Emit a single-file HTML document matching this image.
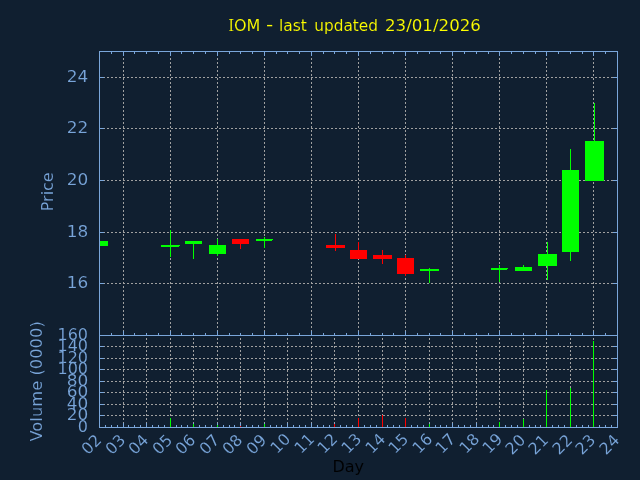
<!DOCTYPE html>
<html lang="en">
<head>
<meta charset="utf-8">
<title>IOM - last updated 23/01/2026</title>
<style>
html,body{margin:0;padding:0;background:#101f30;}
body{width:640px;height:480px;overflow:hidden;}
svg{display:block;}
svg text{font-family:"DejaVu Sans","Liberation Sans",sans-serif;font-size:16px;stroke:#101f30;stroke-width:0.12px;paint-order:fill stroke;}
</style>
</head>
<body>
<svg width="640" height="480" viewBox="0 0 640 480">
<defs><clipPath id="cp"><rect x="99" y="51" width="519" height="285"/></clipPath></defs>
<rect x="0" y="0" width="640" height="480" fill="#101f30"/>
<g shape-rendering="crispEdges">
<line x1="104" y1="77.5" x2="613" y2="77.5" stroke="#a0a0a0" stroke-width="1" stroke-dasharray="2 2" stroke-dashoffset="1"/>
<line x1="104" y1="128.5" x2="613" y2="128.5" stroke="#a0a0a0" stroke-width="1" stroke-dasharray="2 2" stroke-dashoffset="1"/>
<line x1="104" y1="180.5" x2="613" y2="180.5" stroke="#a0a0a0" stroke-width="1" stroke-dasharray="2 2" stroke-dashoffset="1"/>
<line x1="104" y1="232.5" x2="613" y2="232.5" stroke="#a0a0a0" stroke-width="1" stroke-dasharray="2 2" stroke-dashoffset="1"/>
<line x1="104" y1="283.5" x2="613" y2="283.5" stroke="#a0a0a0" stroke-width="1" stroke-dasharray="2 2" stroke-dashoffset="1"/>
<line x1="123.5" y1="56" x2="123.5" y2="331" stroke="#a0a0a0" stroke-width="1" stroke-dasharray="2 2" stroke-dashoffset="2"/>
<line x1="170.5" y1="56" x2="170.5" y2="331" stroke="#a0a0a0" stroke-width="1" stroke-dasharray="2 2" stroke-dashoffset="2"/>
<line x1="217.5" y1="56" x2="217.5" y2="331" stroke="#a0a0a0" stroke-width="1" stroke-dasharray="2 2" stroke-dashoffset="2"/>
<line x1="264.5" y1="56" x2="264.5" y2="331" stroke="#a0a0a0" stroke-width="1" stroke-dasharray="2 2" stroke-dashoffset="2"/>
<line x1="311.5" y1="56" x2="311.5" y2="331" stroke="#a0a0a0" stroke-width="1" stroke-dasharray="2 2" stroke-dashoffset="2"/>
<line x1="358.5" y1="56" x2="358.5" y2="331" stroke="#a0a0a0" stroke-width="1" stroke-dasharray="2 2" stroke-dashoffset="2"/>
<line x1="405.5" y1="56" x2="405.5" y2="331" stroke="#a0a0a0" stroke-width="1" stroke-dasharray="2 2" stroke-dashoffset="2"/>
<line x1="452.5" y1="56" x2="452.5" y2="331" stroke="#a0a0a0" stroke-width="1" stroke-dasharray="2 2" stroke-dashoffset="2"/>
<line x1="499.5" y1="56" x2="499.5" y2="331" stroke="#a0a0a0" stroke-width="1" stroke-dasharray="2 2" stroke-dashoffset="2"/>
<line x1="546.5" y1="56" x2="546.5" y2="331" stroke="#a0a0a0" stroke-width="1" stroke-dasharray="2 2" stroke-dashoffset="2"/>
<line x1="593.5" y1="56" x2="593.5" y2="331" stroke="#a0a0a0" stroke-width="1" stroke-dasharray="2 2" stroke-dashoffset="2"/>
<line x1="104" y1="346.5" x2="613" y2="346.5" stroke="#a0a0a0" stroke-width="1" stroke-dasharray="2 2" stroke-dashoffset="1"/>
<line x1="104" y1="358.5" x2="613" y2="358.5" stroke="#a0a0a0" stroke-width="1" stroke-dasharray="2 2" stroke-dashoffset="1"/>
<line x1="104" y1="369.5" x2="613" y2="369.5" stroke="#a0a0a0" stroke-width="1" stroke-dasharray="2 2" stroke-dashoffset="1"/>
<line x1="104" y1="381.5" x2="613" y2="381.5" stroke="#a0a0a0" stroke-width="1" stroke-dasharray="2 2" stroke-dashoffset="1"/>
<line x1="104" y1="392.5" x2="613" y2="392.5" stroke="#a0a0a0" stroke-width="1" stroke-dasharray="2 2" stroke-dashoffset="1"/>
<line x1="104" y1="404.5" x2="613" y2="404.5" stroke="#a0a0a0" stroke-width="1" stroke-dasharray="2 2" stroke-dashoffset="1"/>
<line x1="104" y1="415.5" x2="613" y2="415.5" stroke="#a0a0a0" stroke-width="1" stroke-dasharray="2 2" stroke-dashoffset="1"/>
<line x1="123.5" y1="336" x2="123.5" y2="423" stroke="#a0a0a0" stroke-width="1" stroke-dasharray="2 2" stroke-dashoffset="2"/>
<line x1="146.5" y1="336" x2="146.5" y2="423" stroke="#a0a0a0" stroke-width="1" stroke-dasharray="2 2" stroke-dashoffset="2"/>
<line x1="170.5" y1="336" x2="170.5" y2="423" stroke="#a0a0a0" stroke-width="1" stroke-dasharray="2 2" stroke-dashoffset="2"/>
<line x1="193.5" y1="336" x2="193.5" y2="423" stroke="#a0a0a0" stroke-width="1" stroke-dasharray="2 2" stroke-dashoffset="2"/>
<line x1="217.5" y1="336" x2="217.5" y2="423" stroke="#a0a0a0" stroke-width="1" stroke-dasharray="2 2" stroke-dashoffset="2"/>
<line x1="240.5" y1="336" x2="240.5" y2="423" stroke="#a0a0a0" stroke-width="1" stroke-dasharray="2 2" stroke-dashoffset="2"/>
<line x1="264.5" y1="336" x2="264.5" y2="423" stroke="#a0a0a0" stroke-width="1" stroke-dasharray="2 2" stroke-dashoffset="2"/>
<line x1="287.5" y1="336" x2="287.5" y2="423" stroke="#a0a0a0" stroke-width="1" stroke-dasharray="2 2" stroke-dashoffset="2"/>
<line x1="311.5" y1="336" x2="311.5" y2="423" stroke="#a0a0a0" stroke-width="1" stroke-dasharray="2 2" stroke-dashoffset="2"/>
<line x1="334.5" y1="336" x2="334.5" y2="423" stroke="#a0a0a0" stroke-width="1" stroke-dasharray="2 2" stroke-dashoffset="2"/>
<line x1="358.5" y1="336" x2="358.5" y2="423" stroke="#a0a0a0" stroke-width="1" stroke-dasharray="2 2" stroke-dashoffset="2"/>
<line x1="382.5" y1="336" x2="382.5" y2="423" stroke="#a0a0a0" stroke-width="1" stroke-dasharray="2 2" stroke-dashoffset="2"/>
<line x1="405.5" y1="336" x2="405.5" y2="423" stroke="#a0a0a0" stroke-width="1" stroke-dasharray="2 2" stroke-dashoffset="2"/>
<line x1="429.5" y1="336" x2="429.5" y2="423" stroke="#a0a0a0" stroke-width="1" stroke-dasharray="2 2" stroke-dashoffset="2"/>
<line x1="452.5" y1="336" x2="452.5" y2="423" stroke="#a0a0a0" stroke-width="1" stroke-dasharray="2 2" stroke-dashoffset="2"/>
<line x1="476.5" y1="336" x2="476.5" y2="423" stroke="#a0a0a0" stroke-width="1" stroke-dasharray="2 2" stroke-dashoffset="2"/>
<line x1="499.5" y1="336" x2="499.5" y2="423" stroke="#a0a0a0" stroke-width="1" stroke-dasharray="2 2" stroke-dashoffset="2"/>
<line x1="523.5" y1="336" x2="523.5" y2="423" stroke="#a0a0a0" stroke-width="1" stroke-dasharray="2 2" stroke-dashoffset="2"/>
<line x1="546.5" y1="336" x2="546.5" y2="423" stroke="#a0a0a0" stroke-width="1" stroke-dasharray="2 2" stroke-dashoffset="2"/>
<line x1="570.5" y1="336" x2="570.5" y2="423" stroke="#a0a0a0" stroke-width="1" stroke-dasharray="2 2" stroke-dashoffset="2"/>
<line x1="593.5" y1="336" x2="593.5" y2="423" stroke="#a0a0a0" stroke-width="1" stroke-dasharray="2 2" stroke-dashoffset="2"/>
<rect x="111" y="52" width="1" height="2" fill="#7aa6da"/>
<rect x="111" y="333" width="1" height="2" fill="#7aa6da"/>
<rect x="123" y="52" width="1" height="4" fill="#7aa6da"/>
<rect x="123" y="331" width="1" height="4" fill="#7aa6da"/>
<rect x="134" y="52" width="1" height="2" fill="#7aa6da"/>
<rect x="134" y="333" width="1" height="2" fill="#7aa6da"/>
<rect x="146" y="52" width="1" height="2" fill="#7aa6da"/>
<rect x="146" y="333" width="1" height="2" fill="#7aa6da"/>
<rect x="158" y="52" width="1" height="2" fill="#7aa6da"/>
<rect x="158" y="333" width="1" height="2" fill="#7aa6da"/>
<rect x="170" y="52" width="1" height="4" fill="#7aa6da"/>
<rect x="170" y="331" width="1" height="4" fill="#7aa6da"/>
<rect x="181" y="52" width="1" height="2" fill="#7aa6da"/>
<rect x="181" y="333" width="1" height="2" fill="#7aa6da"/>
<rect x="193" y="52" width="1" height="2" fill="#7aa6da"/>
<rect x="193" y="333" width="1" height="2" fill="#7aa6da"/>
<rect x="205" y="52" width="1" height="2" fill="#7aa6da"/>
<rect x="205" y="333" width="1" height="2" fill="#7aa6da"/>
<rect x="217" y="52" width="1" height="4" fill="#7aa6da"/>
<rect x="217" y="331" width="1" height="4" fill="#7aa6da"/>
<rect x="229" y="52" width="1" height="2" fill="#7aa6da"/>
<rect x="229" y="333" width="1" height="2" fill="#7aa6da"/>
<rect x="240" y="52" width="1" height="2" fill="#7aa6da"/>
<rect x="240" y="333" width="1" height="2" fill="#7aa6da"/>
<rect x="252" y="52" width="1" height="2" fill="#7aa6da"/>
<rect x="252" y="333" width="1" height="2" fill="#7aa6da"/>
<rect x="264" y="52" width="1" height="4" fill="#7aa6da"/>
<rect x="264" y="331" width="1" height="4" fill="#7aa6da"/>
<rect x="276" y="52" width="1" height="2" fill="#7aa6da"/>
<rect x="276" y="333" width="1" height="2" fill="#7aa6da"/>
<rect x="287" y="52" width="1" height="2" fill="#7aa6da"/>
<rect x="287" y="333" width="1" height="2" fill="#7aa6da"/>
<rect x="299" y="52" width="1" height="2" fill="#7aa6da"/>
<rect x="299" y="333" width="1" height="2" fill="#7aa6da"/>
<rect x="311" y="52" width="1" height="4" fill="#7aa6da"/>
<rect x="311" y="331" width="1" height="4" fill="#7aa6da"/>
<rect x="323" y="52" width="1" height="2" fill="#7aa6da"/>
<rect x="323" y="333" width="1" height="2" fill="#7aa6da"/>
<rect x="334" y="52" width="1" height="2" fill="#7aa6da"/>
<rect x="334" y="333" width="1" height="2" fill="#7aa6da"/>
<rect x="346" y="52" width="1" height="2" fill="#7aa6da"/>
<rect x="346" y="333" width="1" height="2" fill="#7aa6da"/>
<rect x="358" y="52" width="1" height="4" fill="#7aa6da"/>
<rect x="358" y="331" width="1" height="4" fill="#7aa6da"/>
<rect x="370" y="52" width="1" height="2" fill="#7aa6da"/>
<rect x="370" y="333" width="1" height="2" fill="#7aa6da"/>
<rect x="382" y="52" width="1" height="2" fill="#7aa6da"/>
<rect x="382" y="333" width="1" height="2" fill="#7aa6da"/>
<rect x="393" y="52" width="1" height="2" fill="#7aa6da"/>
<rect x="393" y="333" width="1" height="2" fill="#7aa6da"/>
<rect x="405" y="52" width="1" height="4" fill="#7aa6da"/>
<rect x="405" y="331" width="1" height="4" fill="#7aa6da"/>
<rect x="417" y="52" width="1" height="2" fill="#7aa6da"/>
<rect x="417" y="333" width="1" height="2" fill="#7aa6da"/>
<rect x="429" y="52" width="1" height="2" fill="#7aa6da"/>
<rect x="429" y="333" width="1" height="2" fill="#7aa6da"/>
<rect x="440" y="52" width="1" height="2" fill="#7aa6da"/>
<rect x="440" y="333" width="1" height="2" fill="#7aa6da"/>
<rect x="452" y="52" width="1" height="4" fill="#7aa6da"/>
<rect x="452" y="331" width="1" height="4" fill="#7aa6da"/>
<rect x="464" y="52" width="1" height="2" fill="#7aa6da"/>
<rect x="464" y="333" width="1" height="2" fill="#7aa6da"/>
<rect x="476" y="52" width="1" height="2" fill="#7aa6da"/>
<rect x="476" y="333" width="1" height="2" fill="#7aa6da"/>
<rect x="488" y="52" width="1" height="2" fill="#7aa6da"/>
<rect x="488" y="333" width="1" height="2" fill="#7aa6da"/>
<rect x="499" y="52" width="1" height="4" fill="#7aa6da"/>
<rect x="499" y="331" width="1" height="4" fill="#7aa6da"/>
<rect x="511" y="52" width="1" height="2" fill="#7aa6da"/>
<rect x="511" y="333" width="1" height="2" fill="#7aa6da"/>
<rect x="523" y="52" width="1" height="2" fill="#7aa6da"/>
<rect x="523" y="333" width="1" height="2" fill="#7aa6da"/>
<rect x="535" y="52" width="1" height="2" fill="#7aa6da"/>
<rect x="535" y="333" width="1" height="2" fill="#7aa6da"/>
<rect x="546" y="52" width="1" height="4" fill="#7aa6da"/>
<rect x="546" y="331" width="1" height="4" fill="#7aa6da"/>
<rect x="558" y="52" width="1" height="2" fill="#7aa6da"/>
<rect x="558" y="333" width="1" height="2" fill="#7aa6da"/>
<rect x="570" y="52" width="1" height="2" fill="#7aa6da"/>
<rect x="570" y="333" width="1" height="2" fill="#7aa6da"/>
<rect x="582" y="52" width="1" height="2" fill="#7aa6da"/>
<rect x="582" y="333" width="1" height="2" fill="#7aa6da"/>
<rect x="593" y="52" width="1" height="4" fill="#7aa6da"/>
<rect x="593" y="331" width="1" height="4" fill="#7aa6da"/>
<rect x="605" y="52" width="1" height="2" fill="#7aa6da"/>
<rect x="605" y="333" width="1" height="2" fill="#7aa6da"/>
<rect x="100" y="77" width="4" height="1" fill="#7aa6da"/>
<rect x="613" y="77" width="4" height="1" fill="#7aa6da"/>
<rect x="100" y="128" width="4" height="1" fill="#7aa6da"/>
<rect x="613" y="128" width="4" height="1" fill="#7aa6da"/>
<rect x="100" y="180" width="4" height="1" fill="#7aa6da"/>
<rect x="613" y="180" width="4" height="1" fill="#7aa6da"/>
<rect x="100" y="232" width="4" height="1" fill="#7aa6da"/>
<rect x="613" y="232" width="4" height="1" fill="#7aa6da"/>
<rect x="100" y="283" width="4" height="1" fill="#7aa6da"/>
<rect x="613" y="283" width="4" height="1" fill="#7aa6da"/>
<rect x="105" y="425" width="1" height="2" fill="#7aa6da"/>
<rect x="111" y="425" width="1" height="2" fill="#7aa6da"/>
<rect x="117" y="425" width="1" height="2" fill="#7aa6da"/>
<rect x="123" y="423" width="1" height="4" fill="#7aa6da"/>
<rect x="128" y="425" width="1" height="2" fill="#7aa6da"/>
<rect x="134" y="425" width="1" height="2" fill="#7aa6da"/>
<rect x="140" y="425" width="1" height="2" fill="#7aa6da"/>
<rect x="146" y="423" width="1" height="4" fill="#7aa6da"/>
<rect x="152" y="425" width="1" height="2" fill="#7aa6da"/>
<rect x="158" y="425" width="1" height="2" fill="#7aa6da"/>
<rect x="164" y="425" width="1" height="2" fill="#7aa6da"/>
<rect x="170" y="423" width="1" height="4" fill="#7aa6da"/>
<rect x="176" y="425" width="1" height="2" fill="#7aa6da"/>
<rect x="181" y="425" width="1" height="2" fill="#7aa6da"/>
<rect x="187" y="425" width="1" height="2" fill="#7aa6da"/>
<rect x="193" y="423" width="1" height="4" fill="#7aa6da"/>
<rect x="199" y="425" width="1" height="2" fill="#7aa6da"/>
<rect x="205" y="425" width="1" height="2" fill="#7aa6da"/>
<rect x="211" y="425" width="1" height="2" fill="#7aa6da"/>
<rect x="217" y="423" width="1" height="4" fill="#7aa6da"/>
<rect x="223" y="425" width="1" height="2" fill="#7aa6da"/>
<rect x="229" y="425" width="1" height="2" fill="#7aa6da"/>
<rect x="234" y="425" width="1" height="2" fill="#7aa6da"/>
<rect x="240" y="423" width="1" height="4" fill="#7aa6da"/>
<rect x="246" y="425" width="1" height="2" fill="#7aa6da"/>
<rect x="252" y="425" width="1" height="2" fill="#7aa6da"/>
<rect x="258" y="425" width="1" height="2" fill="#7aa6da"/>
<rect x="264" y="423" width="1" height="4" fill="#7aa6da"/>
<rect x="270" y="425" width="1" height="2" fill="#7aa6da"/>
<rect x="276" y="425" width="1" height="2" fill="#7aa6da"/>
<rect x="281" y="425" width="1" height="2" fill="#7aa6da"/>
<rect x="287" y="423" width="1" height="4" fill="#7aa6da"/>
<rect x="293" y="425" width="1" height="2" fill="#7aa6da"/>
<rect x="299" y="425" width="1" height="2" fill="#7aa6da"/>
<rect x="305" y="425" width="1" height="2" fill="#7aa6da"/>
<rect x="311" y="423" width="1" height="4" fill="#7aa6da"/>
<rect x="317" y="425" width="1" height="2" fill="#7aa6da"/>
<rect x="323" y="425" width="1" height="2" fill="#7aa6da"/>
<rect x="329" y="425" width="1" height="2" fill="#7aa6da"/>
<rect x="334" y="423" width="1" height="4" fill="#7aa6da"/>
<rect x="340" y="425" width="1" height="2" fill="#7aa6da"/>
<rect x="346" y="425" width="1" height="2" fill="#7aa6da"/>
<rect x="352" y="425" width="1" height="2" fill="#7aa6da"/>
<rect x="358" y="423" width="1" height="4" fill="#7aa6da"/>
<rect x="364" y="425" width="1" height="2" fill="#7aa6da"/>
<rect x="370" y="425" width="1" height="2" fill="#7aa6da"/>
<rect x="376" y="425" width="1" height="2" fill="#7aa6da"/>
<rect x="382" y="423" width="1" height="4" fill="#7aa6da"/>
<rect x="387" y="425" width="1" height="2" fill="#7aa6da"/>
<rect x="393" y="425" width="1" height="2" fill="#7aa6da"/>
<rect x="399" y="425" width="1" height="2" fill="#7aa6da"/>
<rect x="405" y="423" width="1" height="4" fill="#7aa6da"/>
<rect x="411" y="425" width="1" height="2" fill="#7aa6da"/>
<rect x="417" y="425" width="1" height="2" fill="#7aa6da"/>
<rect x="423" y="425" width="1" height="2" fill="#7aa6da"/>
<rect x="429" y="423" width="1" height="4" fill="#7aa6da"/>
<rect x="435" y="425" width="1" height="2" fill="#7aa6da"/>
<rect x="440" y="425" width="1" height="2" fill="#7aa6da"/>
<rect x="446" y="425" width="1" height="2" fill="#7aa6da"/>
<rect x="452" y="423" width="1" height="4" fill="#7aa6da"/>
<rect x="458" y="425" width="1" height="2" fill="#7aa6da"/>
<rect x="464" y="425" width="1" height="2" fill="#7aa6da"/>
<rect x="470" y="425" width="1" height="2" fill="#7aa6da"/>
<rect x="476" y="423" width="1" height="4" fill="#7aa6da"/>
<rect x="482" y="425" width="1" height="2" fill="#7aa6da"/>
<rect x="488" y="425" width="1" height="2" fill="#7aa6da"/>
<rect x="493" y="425" width="1" height="2" fill="#7aa6da"/>
<rect x="499" y="423" width="1" height="4" fill="#7aa6da"/>
<rect x="505" y="425" width="1" height="2" fill="#7aa6da"/>
<rect x="511" y="425" width="1" height="2" fill="#7aa6da"/>
<rect x="517" y="425" width="1" height="2" fill="#7aa6da"/>
<rect x="523" y="423" width="1" height="4" fill="#7aa6da"/>
<rect x="529" y="425" width="1" height="2" fill="#7aa6da"/>
<rect x="535" y="425" width="1" height="2" fill="#7aa6da"/>
<rect x="540" y="425" width="1" height="2" fill="#7aa6da"/>
<rect x="546" y="423" width="1" height="4" fill="#7aa6da"/>
<rect x="552" y="425" width="1" height="2" fill="#7aa6da"/>
<rect x="558" y="425" width="1" height="2" fill="#7aa6da"/>
<rect x="564" y="425" width="1" height="2" fill="#7aa6da"/>
<rect x="570" y="423" width="1" height="4" fill="#7aa6da"/>
<rect x="576" y="425" width="1" height="2" fill="#7aa6da"/>
<rect x="582" y="425" width="1" height="2" fill="#7aa6da"/>
<rect x="588" y="425" width="1" height="2" fill="#7aa6da"/>
<rect x="593" y="423" width="1" height="4" fill="#7aa6da"/>
<rect x="599" y="425" width="1" height="2" fill="#7aa6da"/>
<rect x="605" y="425" width="1" height="2" fill="#7aa6da"/>
<rect x="611" y="425" width="1" height="2" fill="#7aa6da"/>
<rect x="100" y="346" width="4" height="1" fill="#7aa6da"/>
<rect x="613" y="346" width="4" height="1" fill="#7aa6da"/>
<rect x="100" y="358" width="4" height="1" fill="#7aa6da"/>
<rect x="613" y="358" width="4" height="1" fill="#7aa6da"/>
<rect x="100" y="369" width="4" height="1" fill="#7aa6da"/>
<rect x="613" y="369" width="4" height="1" fill="#7aa6da"/>
<rect x="100" y="381" width="4" height="1" fill="#7aa6da"/>
<rect x="613" y="381" width="4" height="1" fill="#7aa6da"/>
<rect x="100" y="392" width="4" height="1" fill="#7aa6da"/>
<rect x="613" y="392" width="4" height="1" fill="#7aa6da"/>
<rect x="100" y="404" width="4" height="1" fill="#7aa6da"/>
<rect x="613" y="404" width="4" height="1" fill="#7aa6da"/>
<rect x="100" y="415" width="4" height="1" fill="#7aa6da"/>
<rect x="613" y="415" width="4" height="1" fill="#7aa6da"/>
<g clip-path="url(#cp)">
<rect x="91" y="241" width="17" height="5" fill="#00ff00"/>
<rect x="170" y="230" width="1" height="27" fill="#00ff00"/>
<rect x="161" y="245" width="19" height="2" fill="#00ff00"/>
<rect x="193" y="241" width="1" height="18" fill="#00ff00"/>
<rect x="185" y="241" width="17" height="3" fill="#00ff00"/>
<rect x="217" y="239" width="1" height="17" fill="#00ff00"/>
<rect x="209" y="245" width="17" height="9" fill="#00ff00"/>
<rect x="240" y="239" width="1" height="10" fill="#ff0000"/>
<rect x="232" y="239" width="17" height="5" fill="#ff0000"/>
<rect x="264" y="237" width="1" height="11" fill="#00ff00"/>
<rect x="256" y="239" width="17" height="2" fill="#00ff00"/>
<rect x="335" y="234" width="1" height="17" fill="#ff0000"/>
<rect x="326" y="245" width="19" height="3" fill="#ff0000"/>
<rect x="358" y="242" width="1" height="17" fill="#ff0000"/>
<rect x="350" y="250" width="17" height="9" fill="#ff0000"/>
<rect x="382" y="250" width="1" height="14" fill="#ff0000"/>
<rect x="373" y="255" width="19" height="4" fill="#ff0000"/>
<rect x="405" y="255" width="1" height="21" fill="#ff0000"/>
<rect x="397" y="258" width="17" height="16" fill="#ff0000"/>
<rect x="429" y="268" width="1" height="15" fill="#00ff00"/>
<rect x="420" y="269" width="19" height="2" fill="#00ff00"/>
<rect x="499" y="265" width="1" height="17" fill="#00ff00"/>
<rect x="491" y="268" width="17" height="2" fill="#00ff00"/>
<rect x="523" y="265" width="1" height="6" fill="#00ff00"/>
<rect x="515" y="267" width="17" height="4" fill="#00ff00"/>
<rect x="547" y="242" width="1" height="38" fill="#00ff00"/>
<rect x="538" y="254" width="19" height="12" fill="#00ff00"/>
<rect x="570" y="149" width="1" height="112" fill="#00ff00"/>
<rect x="562" y="170" width="17" height="82" fill="#00ff00"/>
<rect x="594" y="103" width="1" height="78" fill="#00ff00"/>
<rect x="585" y="141" width="19" height="40" fill="#00ff00"/>
<rect x="179" y="246" width="1" height="1" fill="#101f30"/>
<rect x="272" y="240" width="1" height="1" fill="#101f30"/>
<rect x="507" y="269" width="1" height="1" fill="#101f30"/>
</g>
<rect x="170" y="418" width="1" height="9" fill="#00ff00"/>
<rect x="193" y="424" width="1" height="3" fill="#00ff00"/>
<rect x="217" y="425" width="1" height="2" fill="#00ff00"/>
<rect x="240" y="426" width="1" height="1" fill="#ff0000"/>
<rect x="264" y="424" width="1" height="3" fill="#00ff00"/>
<rect x="334" y="424" width="1" height="3" fill="#ff0000"/>
<rect x="358" y="418" width="1" height="9" fill="#ff0000"/>
<rect x="382" y="415" width="1" height="12" fill="#ff0000"/>
<rect x="405" y="418" width="1" height="9" fill="#ff0000"/>
<rect x="429" y="424" width="1" height="3" fill="#00ff00"/>
<rect x="499" y="422" width="1" height="5" fill="#00ff00"/>
<rect x="523" y="419" width="1" height="8" fill="#00ff00"/>
<rect x="546" y="390" width="1" height="37" fill="#00ff00"/>
<rect x="570" y="388" width="1" height="39" fill="#00ff00"/>
<rect x="593" y="341" width="1" height="86" fill="#00ff00"/>
<rect x="99" y="51" width="519" height="1" fill="#7aa6da"/>
<rect x="99" y="335" width="519" height="1" fill="#7aa6da"/>
<rect x="99" y="427" width="519" height="1" fill="#7aa6da"/>
<rect x="99" y="51" width="1" height="377" fill="#7aa6da"/>
<rect x="617" y="51" width="1" height="377" fill="#7aa6da"/>
</g>
<g opacity="0.999">
<text x="88.2" y="82" text-anchor="end" fill="#7aa6da" textLength="21.5" lengthAdjust="spacingAndGlyphs">24</text>
<text x="88.2" y="133" text-anchor="end" fill="#7aa6da" textLength="21.5" lengthAdjust="spacingAndGlyphs">22</text>
<text x="88.2" y="185" text-anchor="end" fill="#7aa6da" textLength="21.5" lengthAdjust="spacingAndGlyphs">20</text>
<text x="88.2" y="237" text-anchor="end" fill="#7aa6da" textLength="21.5" lengthAdjust="spacingAndGlyphs">18</text>
<text x="88.2" y="288" text-anchor="end" fill="#7aa6da" textLength="21.5" lengthAdjust="spacingAndGlyphs">16</text>
<text x="88" y="351" text-anchor="end" fill="#7aa6da" >140</text>
<text x="88" y="363" text-anchor="end" fill="#7aa6da" >120</text>
<text x="88" y="374" text-anchor="end" fill="#7aa6da" >100</text>
<text x="88.2" y="386" text-anchor="end" fill="#7aa6da" textLength="21.5" lengthAdjust="spacingAndGlyphs">80</text>
<text x="88.2" y="397" text-anchor="end" fill="#7aa6da" textLength="21.5" lengthAdjust="spacingAndGlyphs">60</text>
<text x="88.2" y="409" text-anchor="end" fill="#7aa6da" textLength="21.5" lengthAdjust="spacingAndGlyphs">40</text>
<text x="88.2" y="420" text-anchor="end" fill="#7aa6da" textLength="21.5" lengthAdjust="spacingAndGlyphs">20</text>
<text x="88" y="340" text-anchor="end" fill="#7aa6da" >160</text>
<text x="88" y="432" text-anchor="end" fill="#7aa6da" >0</text>
<text y="31" fill="#ffff00"><tspan x="228.2" textLength="5.9" lengthAdjust="spacingAndGlyphs" style="font-family:'DejaVu Serif','Liberation Serif',serif">I</tspan><tspan x="233.9" textLength="26.4" lengthAdjust="spacingAndGlyphs">OM</tspan> <tspan x="265.9" dy="-1" textLength="7.2" lengthAdjust="spacingAndGlyphs">-</tspan> <tspan x="279.0" dy="1" textLength="27.93" lengthAdjust="spacingAndGlyphs">last</tspan> <tspan x="314.3" textLength="63.7" lengthAdjust="spacingAndGlyphs">updated</tspan> <tspan x="385.0" textLength="95.9" lengthAdjust="spacingAndGlyphs">23/01/2026</tspan></text>
<text x="348.2" y="471.5" text-anchor="middle" fill="#000000" >Day</text>
<text transform="translate(53,191.8) rotate(-90)" text-anchor="middle" fill="#7aa6da">Price</text>
<text transform="translate(42,381.4) rotate(-90)" text-anchor="middle" fill="#7aa6da" textLength="120.3" lengthAdjust="spacingAndGlyphs">Volume (0000)</text>
<text transform="translate(102.4,441.0) rotate(-45)" text-anchor="end" fill="#7aa6da">02</text>
<text transform="translate(126.4,441.0) rotate(-45)" text-anchor="end" fill="#7aa6da">03</text>
<text transform="translate(149.4,441.0) rotate(-45)" text-anchor="end" fill="#7aa6da">04</text>
<text transform="translate(173.4,441.0) rotate(-45)" text-anchor="end" fill="#7aa6da">05</text>
<text transform="translate(196.4,441.0) rotate(-45)" text-anchor="end" fill="#7aa6da">06</text>
<text transform="translate(220.4,441.0) rotate(-45)" text-anchor="end" fill="#7aa6da">07</text>
<text transform="translate(243.4,441.0) rotate(-45)" text-anchor="end" fill="#7aa6da">08</text>
<text transform="translate(267.4,441.0) rotate(-45)" text-anchor="end" fill="#7aa6da">09</text>
<text transform="translate(291.4,440.0) rotate(-45)" text-anchor="end" fill="#7aa6da">10</text>
<text transform="translate(315.4,440.0) rotate(-45)" text-anchor="end" fill="#7aa6da">11</text>
<text transform="translate(338.4,440.0) rotate(-45)" text-anchor="end" fill="#7aa6da">12</text>
<text transform="translate(362.4,440.0) rotate(-45)" text-anchor="end" fill="#7aa6da">13</text>
<text transform="translate(386.4,440.0) rotate(-45)" text-anchor="end" fill="#7aa6da">14</text>
<text transform="translate(409.4,440.0) rotate(-45)" text-anchor="end" fill="#7aa6da">15</text>
<text transform="translate(433.4,440.0) rotate(-45)" text-anchor="end" fill="#7aa6da">16</text>
<text transform="translate(456.4,440.0) rotate(-45)" text-anchor="end" fill="#7aa6da">17</text>
<text transform="translate(480.4,440.0) rotate(-45)" text-anchor="end" fill="#7aa6da">18</text>
<text transform="translate(503.4,440.0) rotate(-45)" text-anchor="end" fill="#7aa6da">19</text>
<text transform="translate(526.4,441.0) rotate(-45)" text-anchor="end" fill="#7aa6da">20</text>
<text transform="translate(549.4,441.0) rotate(-45)" text-anchor="end" fill="#7aa6da">21</text>
<text transform="translate(573.4,441.0) rotate(-45)" text-anchor="end" fill="#7aa6da">22</text>
<text transform="translate(596.4,441.0) rotate(-45)" text-anchor="end" fill="#7aa6da">23</text>
<text transform="translate(620.4,441.0) rotate(-45)" text-anchor="end" fill="#7aa6da">24</text>
</g>
</svg>
</body>
</html>
